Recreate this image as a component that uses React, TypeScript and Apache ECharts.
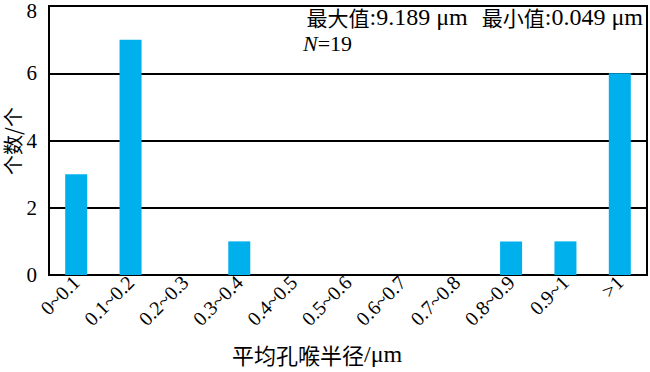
import React, { useEffect, useRef } from "react";
import * as echarts from "echarts";

const categories = ["0~0.1", "0.1~0.2", "0.2~0.3", "0.3~0.4", "0.4~0.5", "0.5~0.6", "0.6~0.7", "0.7~0.8", "0.8~0.9", "0.9~1", ">1"];
const counts = [3, 7, 0, 1, 0, 0, 0, 0, 1, 1, 6];
const yTicks = { min: 0, max: 8, interval: 2 };
const xAxisName = "平均孔喉半径";
const xAxisUnit = "/μm";
const yAxisName = "个数/个";
const maxText = "9.189 μm";
const minText = "0.049 μm";
const nText = "19";

const SERIF = "Liberation Serif";
const CJK = "Noto Sans CJK SC";

export default function App() {
  const ref = useRef<HTMLDivElement>(null);
  useEffect(() => {
    if (!ref.current) return;
    const chart = echarts.init(ref.current, null, { renderer: "svg" });
    chart.setOption({
      animation: false,
      grid: {
        left: 49, right: 3, top: 6, bottom: 97,
        containLabel: false, outerBoundsMode: "none",
        show: true, borderColor: "#000", borderWidth: 2, backgroundColor: "transparent",
      },
      xAxis: {
        type: "category",
        data: categories,
        axisLine: { lineStyle: { color: "#000", width: 2 } },
        axisTick: { inside: true, length: 5, lineStyle: { color: "#000", width: 2 } },
        axisLabel: { rotate: 45, color: "#000", fontSize: 20, fontFamily: SERIF, margin: 4, interval: 0 },
      },
      yAxis: {
        type: "value",
        min: yTicks.min,
        max: yTicks.max,
        interval: yTicks.interval,
        axisLine: { show: true, lineStyle: { color: "#000", width: 2 } },
        axisTick: { show: false },
        splitLine: { lineStyle: { color: "#000", width: 2 } },
        axisLabel: {
          color: "#000",
          fontSize: 21,
          fontFamily: SERIF,
          margin: 12,
          formatter: (v: number) => (v === yTicks.max ? "{t|" + v + "}" : String(v)),
          rich: { t: { fontSize: 21, fontFamily: SERIF, color: "#000", padding: [10, 0, 0, 0] } },
        },
      },
      series: [
        {
          type: "bar",
          data: counts,
          barWidth: 22,
          itemStyle: { color: "#00B0EC" },
        },
      ],
      graphic: [
        {
          type: "text",
          x: 12,
          y: 141,
          rotation: Math.PI / 2,
          style: {
            text: yAxisName,
            fontFamily: CJK,
            fontSize: 20,
            lineHeight: 20,
            fill: "#000",
            align: "center",
            verticalAlign: "middle",
          },
        },
        {
          type: "text",
          right: 7,
          top: 5,
          style: {
            text: "{c|最大值}{l|:" + maxText + "}{g| }{c|最小值}{l|:" + minText + "}",
            rich: {
              c: { fontFamily: CJK, fontSize: 21, fill: "#000" },
              l: { fontFamily: SERIF, fontSize: 24, fill: "#000" },
              g: { fontFamily: SERIF, fontSize: 22, width: 14 },
            },
          },
        },
        {
          type: "text",
          left: 303,
          top: 32,
          style: {
            text: "{i|N}{l|=" + nText + "}",
            rich: {
              i: { fontFamily: SERIF, fontSize: 22, fontStyle: "italic", fill: "#000" },
              l: { fontFamily: SERIF, fontSize: 22, fill: "#000" },
            },
          },
        },
        {
          type: "text",
          left: 232,
          top: 342,
          style: {
            text: "{c|" + xAxisName + "}{l|" + xAxisUnit + "}",
            rich: {
              c: { fontFamily: CJK, fontSize: 22, fill: "#000" },
              l: { fontFamily: SERIF, fontSize: 24, fill: "#000" },
            },
          },
        },
      ],
    });
    return () => chart.dispose();
  }, []);
  return <div ref={ref} style={{ width: 650, height: 372, position: "absolute", left: 0, top: 0 }} />;
}
